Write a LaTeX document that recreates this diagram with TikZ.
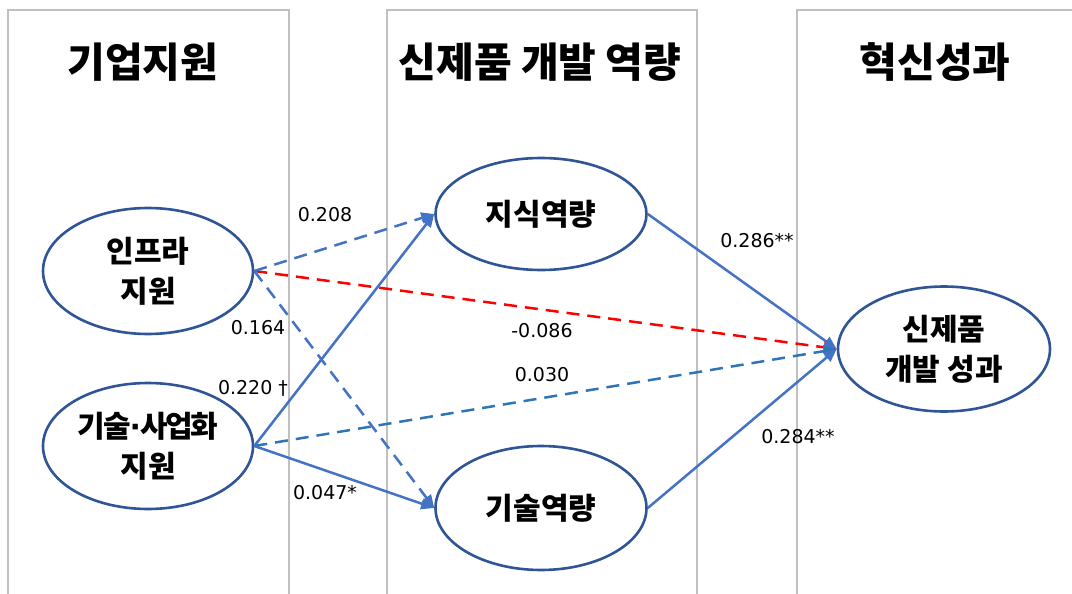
\documentclass[tikz,border=0pt]{standalone}
\usepackage{fontspec}
\setmainfont{Noto Sans CJK KR}
\newfontfamily\numfont{DejaVu Sans}
\usetikzlibrary{shapes.geometric,arrows.meta}
\definecolor{colgray}{HTML}{C0C0C0}
\definecolor{ellblue}{HTML}{2F5597}
\definecolor{arrblue}{HTML}{4472C4}
\definecolor{dashblue}{HTML}{2E75B6}
\definecolor{dashred}{HTML}{FF0000}
\tikzset{
  colframe/.style={draw=colgray, line width=2.8pt},
  latent/.style={ellipse, draw=ellblue, line width=2.6pt, inner sep=0pt, align=center,
    font=\fontsize{30}{40}\selectfont\bfseries},
  header/.style={font=\fontsize{41}{46}\selectfont\bfseries},
  coef/.style={font=\numfont\fontsize{19}{22}\selectfont, inner sep=0pt},
  pathline/.style={line width=2.5pt, -{Triangle[length=13pt,width=11pt]}},
  solidarr/.style={pathline, draw=arrblue, fill=arrblue},
  dasharr/.style={pathline, draw=arrblue, dash pattern=on 13pt off 8pt},
  dashblue/.style={pathline, draw=dashblue, dash pattern=on 13pt off 8pt},
  dashred/.style={pathline, draw=dashred, dash pattern=on 13pt off 8pt},
}
\begin{document}
\begin{tikzpicture}[x=1pt,y=-1pt]
\useasboundingbox (0,0) rectangle (1072,594);
\clip (0,0) rectangle (1072,594);
\fill[white] (0,0) rectangle (1072,594);
% columns
\draw[colframe] (8,610) -- (8,10) -- (289,10) -- (289,610);
\draw[colframe] (387,610) -- (387,10) -- (697,10) -- (697,610);
\draw[colframe] (797,610) -- (797,10) -- (1090,10);
% headers
\node[header] (h1) at (143,62) {기업지원};
\node[header] (h2) at (540,62) {신제품 개발 역량};
\node[header] (h3) at (935,62) {혁신성과};
% latent variables
\node[latent, minimum width=210pt, minimum height=126pt] (inf) at (148,271) {인프라\\지원};
\node[latent, minimum width=210pt, minimum height=126pt] (tec) at (148,446) {{\addfontfeature{LetterSpace=-8}기술{\numfont\bfseries\kern-1pt·\kern-1pt}사업화}\\지원};
\node[latent, minimum width=211pt, minimum height=112pt] (kno) at (541,214) {지식역량};
\node[latent, minimum width=211pt, minimum height=124pt] (tcp) at (541,508) {기술역량};
\node[latent, minimum width=212pt, minimum height=125pt] (npd) at (944,349) {신제품\\개발 성과};
% paths
\draw[dashred] (inf.east) -- (npd.west);
\draw[dashblue] (tec.east) -- (npd.west);
\draw[dasharr] (inf.east) -- (kno.west);
\draw[dasharr] (inf.east) -- (tcp.west);
\draw[solidarr] (tec.east) -- (kno.west);
\draw[solidarr] (tec.east) -- (tcp.west);
\draw[solidarr] (kno.east) -- (npd.west);
\draw[solidarr] (tcp.east) -- (npd.west);
% coefficients
\node[coef] (c1) at (325,215) {0.208};
\node[coef] (c2) at (258,328) {0.164};
\node[coef] (c3) at (253,388) {0.220 †};
\node[coef] (c4) at (325,493) {0.047*};
\node[coef] (c5) at (542,331) {-0.086};
\node[coef] (c6) at (542,375) {0.030};
\node[coef] (c7) at (757,241) {0.286**};
\node[coef] (c8) at (798,437) {0.284**};
\end{tikzpicture}
\end{document}
